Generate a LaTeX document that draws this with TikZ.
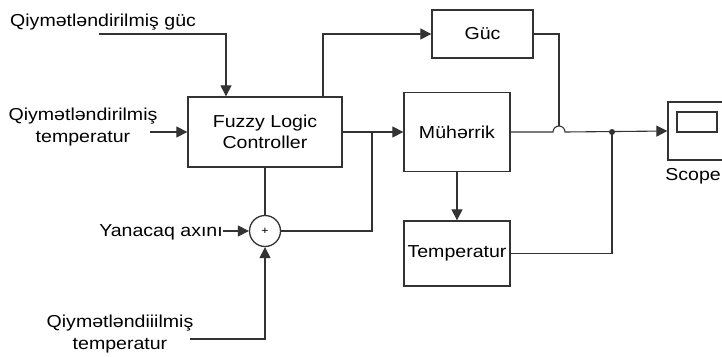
\documentclass[tikz,border=0pt]{standalone}
\usepackage{fontspec}
\setmainfont[FakeStretch=1.13]{Liberation Sans}
\usetikzlibrary{arrows.meta}
\begin{document}
\begin{tikzpicture}[x=1pt, y=-1pt,
  blk/.style={draw=black!80, line width=1.3pt, inner sep=0pt, align=center},
  sig/.style={draw=black!80, line width=1.1pt},
  lbl/.style={inner sep=0pt, align=center},
  >={Triangle[length=11pt,width=11pt]},
  font=\fontsize{17.3}{21.3}\selectfont]
\clip (0,0) rectangle (722,356);
\node[blk, minimum width=154pt, minimum height=70pt] (flc) at (265,132) {Fuzzy Logic\\ Controller};
\node[blk, minimum width=101pt, minimum height=48pt] (guc) at (482.5,34) {Güc};
\node[blk, minimum width=106pt, minimum height=79pt] (mot) at (457,132) {Mühərrik};
\node[blk, minimum width=106pt, minimum height=65pt] (tmp) at (457,253.5) {Temperatur};
\node[blk, minimum width=58pt, minimum height=58pt] (sc) at (697,131) {};
\node[blk, line width=1.1pt, minimum width=40pt, minimum height=20pt] (scr) at (697,122) {};
\node[blk, circle, minimum size=31pt] (sum) at (265,231) {\fontsize{11}{11}\selectfont +};

\node[lbl, anchor=base west] (qg) at (10,27) {Qiymətləndirilmiş güc};
\node[lbl] (qt) at (83,127) {Qiymətləndirilmiş\\ temperatur};
\node[lbl, anchor=base east] (ya) at (223,236) {Yanacaq axını};
\node[lbl] (qb) at (120,334) {Qiymətləndiiilmiş\\ temperatur};
\node[lbl, anchor=base east] (scl) at (721,180) {Scope};

\coordinate (g0) at (99,34);
\coordinate (t0) at (150,132);
\coordinate (b0) at (190,339);
\coordinate (j) at (372,132);
\coordinate (h) at (559,132);
\coordinate (d) at (612,132);

\draw[sig, ->] (g0) -| ([xshift=-39pt]flc.north);
\draw[sig, ->] (t0) -- (flc.west);
\draw[sig, ->] ([xshift=58pt]flc.north) |- (guc.west);
\draw[sig, ->] (flc.east) -- (mot.west);
\draw[sig] (flc.south) -- (sum.north);
\draw[sig, ->] (ya.east |- sum) -- (sum.west);
\draw[sig, ->] (b0) -| (sum.south);
\draw[sig] (sum.east) -| (j);
\draw[sig, ->] (mot.east) -- ([xshift=-6pt]h) arc[start angle=180, end angle=0, radius=6pt] -- (sc.west);
\draw[sig] (guc.east) -| ([yshift=6pt]h);
\draw[sig, ->] (mot.south) -- (tmp.north);
\draw[sig] (tmp.east) -| (d);
\fill[black!80] (d) circle[radius=3pt];
\end{tikzpicture}
\end{document}
